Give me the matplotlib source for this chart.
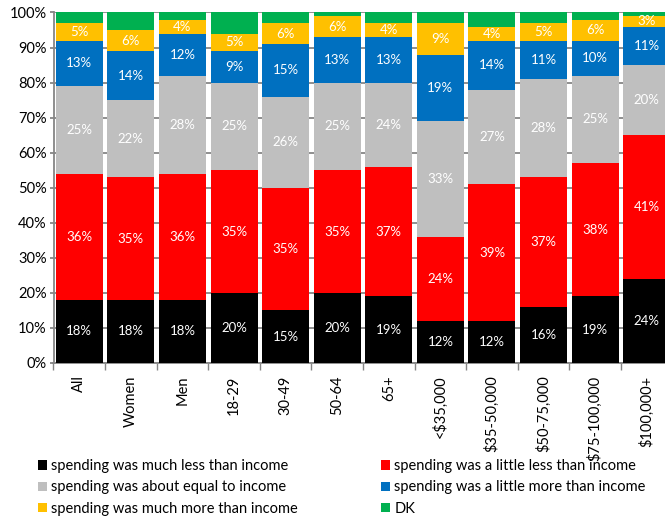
import matplotlib
matplotlib.use("Agg")
import matplotlib.pyplot as plt
from matplotlib.patches import Patch
import numpy as np

plt.rcParams['font.family'] = ['Lato', 'DejaVu Sans']

groups = ["All", "Women", "Men", "18-29", "30-49", "50-64", "65+",
          "<$35,000", "$35-50,000", "$50-75,000", "$75-100,000", "$100,000+"]

much_less = [18, 18, 18, 20, 15, 20, 19, 12, 12, 16, 19, 24]
little_less = [36, 35, 36, 35, 35, 35, 37, 24, 39, 37, 38, 41]
about_equal = [25, 22, 28, 25, 26, 25, 24, 33, 27, 28, 25, 20]
little_more = [13, 14, 12, 9, 15, 13, 13, 19, 14, 11, 10, 11]
much_more = [5, 6, 4, 5, 6, 6, 4, 9, 4, 5, 6, 3]
dk = [3, 5, 2, 6, 3, 1, 3, 3, 4, 3, 2, 1]

series = [
    ("spending was much less than income", much_less, "#000000", True),
    ("spending was a little less than income", little_less, "#ff0000", True),
    ("spending was about equal to income", about_equal, "#bfbfbf", True),
    ("spending was a little more than income", little_more, "#0070c0", True),
    ("spending was much more than income", much_more, "#ffc000", True),
    ("DK", dk, "#00b050", False),
]

fig = plt.figure(figsize=(6.65, 5.18), dpi=100)
ax = fig.add_axes([53.5 / 665, 155 / 518, 619 / 665, 350.5 / 518])

x = np.arange(len(groups))
bottom = np.zeros(len(groups))
for name, vals, color, labelled in series:
    vals = np.array(vals, dtype=float)
    ax.bar(x, vals, 0.91, bottom=bottom, color=color, zorder=3)
    if labelled:
        for xi, b, v in zip(x, bottom, vals):
            ax.text(xi, b + v / 2, f"{int(v)}%", ha="center", va="center",
                    color="white", fontsize=9.5, zorder=4)
    bottom += vals

ax.set_xlim(-0.5, len(groups) - 0.5)
ax.set_ylim(0, 100)
ax.set_yticks(np.arange(0, 101, 10))
ax.set_yticklabels([f"{v}%" for v in range(0, 101, 10)], fontsize=10.5)
ax.yaxis.grid(True, color="#868686", linewidth=1.3, zorder=0)
ax.set_axisbelow(True)

ax.set_xticks(x)
ax.set_xticklabels(groups, rotation=90, fontsize=10.5)
ax.tick_params(axis="x", length=0, pad=9)
ax.set_xticks(np.arange(-0.5, len(groups), 1), minor=True)
ax.tick_params(axis="x", which="minor", length=5, color="#868686", width=1)
ax.tick_params(axis="y", length=3, color="#868686", width=1.3, pad=2)

for side in ["top", "right"]:
    ax.spines[side].set_visible(False)
ax.spines["left"].set_color("#868686")
ax.spines["bottom"].set_color("#868686")
ax.spines["left"].set_linewidth(1.3)
ax.spines["bottom"].set_linewidth(1.3)

# legend: two columns under the plot
order = [0, 2, 4, 1, 3, 5]
handles = [Patch(facecolor=series[i][2], edgecolor="none") for i in order]
labels = [series[i][0] for i in order]
fig.legend(handles, labels, loc="upper left", bbox_to_anchor=(25 / 665, 1 - 446 / 518),
           ncol=2, frameon=False, fontsize=10.5, handlelength=0.6, handleheight=0.6,
           handletextpad=0.3, columnspacing=5.7, labelspacing=0.5)

fig.savefig("out.png", dpi=100)
